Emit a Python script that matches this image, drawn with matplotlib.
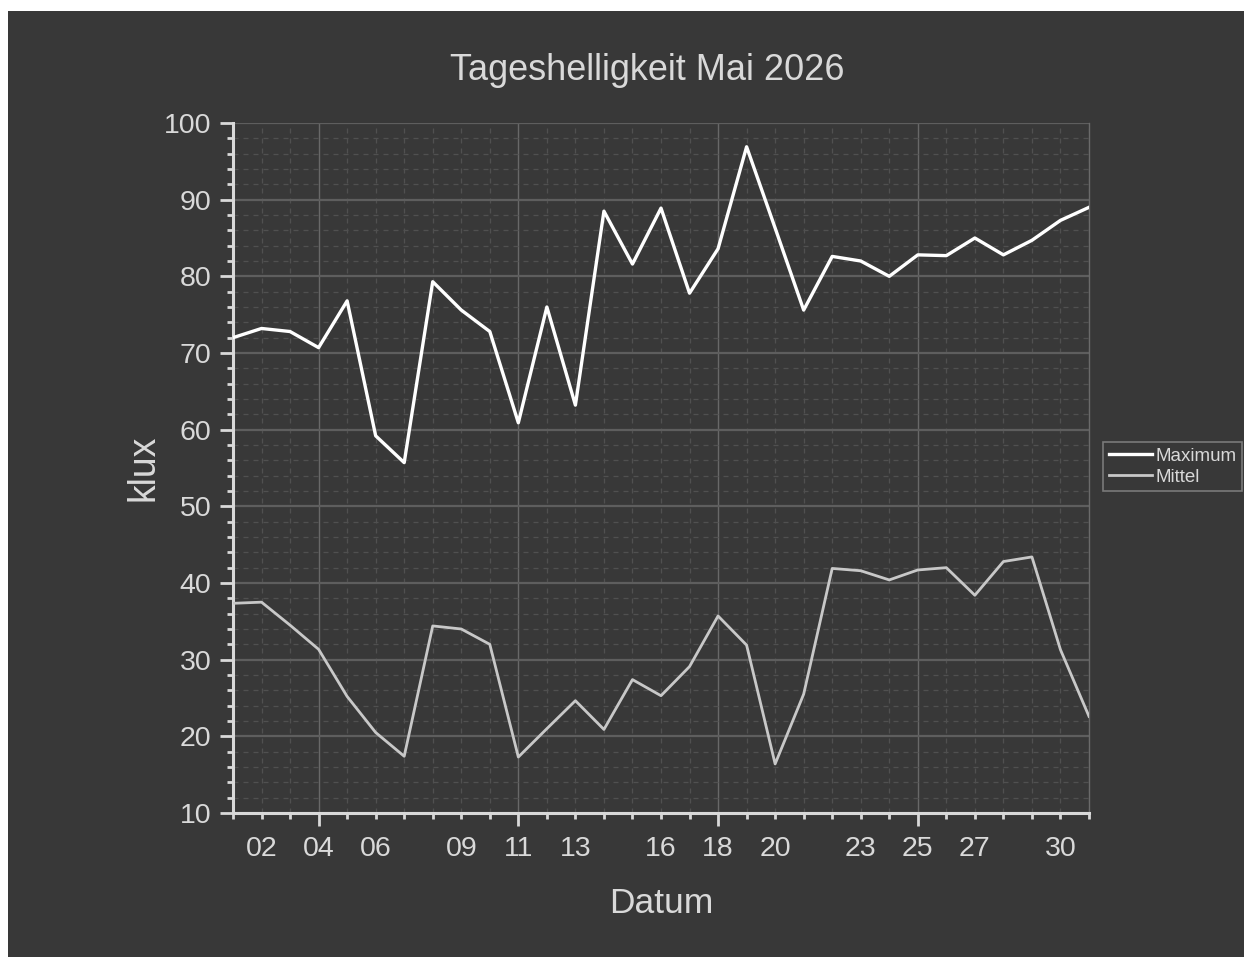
import matplotlib
matplotlib.use("Agg")
import matplotlib.pyplot as plt
from matplotlib.patches import Rectangle
from matplotlib.ticker import FixedLocator, FixedFormatter, MultipleLocator

plt.rcParams['font.family'] = ['Liberation Sans', 'DejaVu Sans']

# Tage im Mai 2026
days = list(range(1, 32))
maximum = [72.0, 73.2, 72.8, 70.7, 76.8, 59.2, 55.7, 79.3, 75.6, 72.8,
           60.9, 76.0, 63.2, 88.5, 81.6, 88.9, 77.8, 83.6, 96.9, 86.3,
           75.6, 82.6, 82.0, 80.0, 82.8, 82.7, 85.0, 82.8, 84.7, 87.3, 89.0]
mittel = [37.35, 37.5, 34.5, 31.35, 25.2, 20.5, 17.4, 34.4, 34.0, 32.0,
          17.3, 21.0, 24.65, 20.9, 27.4, 25.3, 29.1, 35.7, 31.9, 16.4,
          25.5, 41.9, 41.6, 40.4, 41.7, 42.0, 38.4, 42.8, 43.4, 31.3, 22.6]

week_days = [4, 11, 18, 25]
week_labels = ["04", "11", "18", "25"]
other_days = [d for d in days if d not in week_days]
other_labels = {2: "02", 6: "06", 9: "09", 13: "13", 16: "16", 20: "20",
                23: "23", 27: "27", 30: "30"}

bg = "#383838"
fg = "#d9d9d9"

fig = plt.figure(figsize=(12.52, 9.65), dpi=100, facecolor="white")
fig.patches.append(Rectangle((8 / 1252, 8 / 965), 1236 / 1252, 946 / 965,
                             transform=fig.transFigure, facecolor=bg,
                             edgecolor="none", zorder=-1))

ax = fig.add_axes([233 / 1252, 1 - 813 / 965, 856 / 1252, 690 / 965])
ax.set_facecolor(bg)

ax.plot(days, maximum, color="#ffffff", lw=2.4, label="Maximum", zorder=3)
ax.plot(days, mittel, color="#c8c8c8", lw=2.0, label="Mittel", zorder=3)

ax.set_xlim(1, 31)
ax.set_ylim(10, 100)

ax.xaxis.set_major_locator(FixedLocator(week_days))
ax.xaxis.set_major_formatter(FixedFormatter(week_labels))
ax.xaxis.set_minor_locator(FixedLocator(other_days))
ax.xaxis.set_minor_formatter(FixedFormatter([other_labels.get(d, "") for d in other_days]))
ax.yaxis.set_major_locator(MultipleLocator(10))
ax.yaxis.set_minor_locator(MultipleLocator(2))

ax.tick_params(axis="x", which="major", length=9, width=2, color=fg,
               labelcolor=fg, labelsize=20.5, pad=7.5)
ax.tick_params(axis="x", which="minor", length=4, width=2, color=fg,
               labelcolor=fg, labelsize=20.5, pad=12.5)
ax.tick_params(axis="y", which="major", length=9.5, width=2, color=fg,
               labelcolor=fg, labelsize=20.5, pad=6)
ax.tick_params(axis="y", which="minor", length=4.5, width=2, color=fg)

ax.grid(which="major", axis="y", color="#5e5e5e", lw=1.6, ls="-", zorder=1)
ax.grid(which="major", axis="x", color="#686868", lw=1.0, ls="-", zorder=1)
ax.grid(which="minor", color="#505050", lw=0.9, ls=(0, (4, 4)), zorder=1)
ax.set_axisbelow(True)

for side in ["left", "bottom"]:
    ax.spines[side].set_color(fg)
    ax.spines[side].set_linewidth(2.2)
ax.spines["right"].set_color("#6a6a6a")
ax.spines["right"].set_linewidth(1.0)
ax.spines["top"].set_visible(False)

ax.set_xlabel("Datum", color=fg, fontsize=25.5, labelpad=18)
ax.set_ylabel("klux", color=fg, fontsize=27, labelpad=2)

fig.text(647 / 1252, 1 - 70 / 965, "Tageshelligkeit Mai 2026", color=fg,
         fontsize=26, ha="center", va="center")

leg = ax.legend(loc="center left", bbox_to_anchor=(1103 / 1252, 1 - 466.5 / 965),
                bbox_transform=fig.transFigure, frameon=True, fancybox=False,
                facecolor=bg, edgecolor="#8a8a8a", fontsize=13.5,
                handlelength=2.3, handletextpad=0.2, borderpad=0.3,
                labelspacing=0.2, borderaxespad=0)
leg.get_frame().set_linewidth(1.2)
for t in leg.get_texts():
    t.set_color(fg)

fig.savefig("out.png", dpi=100, facecolor="white")
